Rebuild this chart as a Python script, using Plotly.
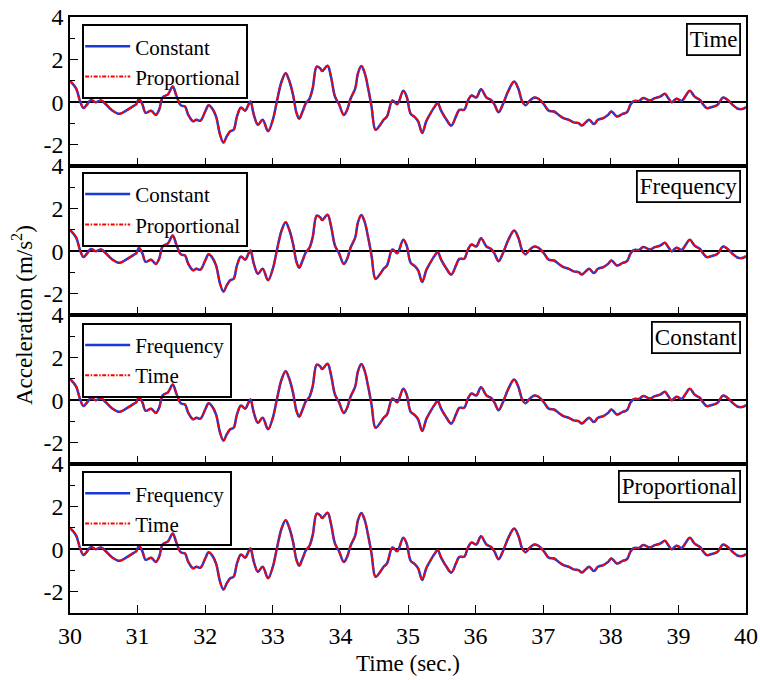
import plotly.graph_objects as go
from plotly.subplots import make_subplots

# Time axis (s) and acceleration (m/s^2)
time_s = [30.00, 30.09, 30.15, 30.20, 30.25, 30.31, 30.38, 30.46, 30.53, 30.63,
          30.73, 30.83, 30.93, 30.98, 31.02, 31.07, 31.12, 31.20, 31.27, 31.32,
          31.37, 31.45, 31.52, 31.57, 31.64, 31.70, 31.75, 31.82, 31.87, 31.93,
          32.00, 32.05, 32.10, 32.16, 32.22, 32.27, 32.32, 32.37, 32.42, 32.47,
          32.53, 32.59, 32.64, 32.67, 32.72, 32.78, 32.85, 32.93, 33.00, 33.06,
          33.13, 33.19, 33.24, 33.30, 33.35, 33.39, 33.44, 33.49, 33.54, 33.59,
          33.65, 33.70, 33.73, 33.81, 33.86, 33.92, 33.98, 34.05, 34.10, 34.15,
          34.22, 34.26, 34.31, 34.36, 34.41, 34.46, 34.52, 34.59, 34.64, 34.69,
          34.77, 34.84, 34.93, 34.98, 35.04, 35.10, 35.15, 35.21, 35.27, 35.32,
          35.38, 35.44, 35.49, 35.57, 35.64, 35.71, 35.76, 35.83, 35.89, 35.94,
          36.01, 36.08, 36.16, 36.23, 36.28, 36.34, 36.41, 36.48, 36.57, 36.63,
          36.69, 36.74, 36.79, 36.87, 36.93, 37.01, 37.08, 37.16, 37.23, 37.30,
          37.38, 37.45, 37.53, 37.57, 37.62, 37.68, 37.75, 37.81, 37.89, 37.96,
          38.01, 38.09, 38.17, 38.24, 38.29, 38.34, 38.42, 38.48, 38.58, 38.65,
          38.73, 38.80, 38.85, 38.90, 38.97, 39.05, 39.10, 39.17, 39.24, 39.32,
          39.37, 39.42, 39.49, 39.58, 39.66, 39.73, 39.81, 39.88, 39.96, 40.00]

accel = [1.00, 0.65, 0.03, -0.28, -0.12, 0.10, 0.00, 0.08, -0.10, -0.40,
         -0.55, -0.40, -0.20, -0.10, 0.15, -0.10, -0.50, -0.40, -0.60, -0.35,
         0.22, 0.37, 0.73, 0.34, -0.15, -0.20, -0.60, -0.90, -0.83, -0.87,
         -0.44, -0.15, -0.28, -0.67, -1.53, -1.90, -1.60, -1.37, -1.30, -0.67,
         -0.25, -0.40, -0.12, 0.03, -0.60, -1.06, -0.83, -1.37, -0.83, 0.03,
         0.97, 1.36, 1.04, 0.34, -0.50, -0.78, -0.44, -0.05, 0.14, 0.65,
         1.67, 1.59, 1.46, 1.71, 1.20, 0.26, -0.10, -0.60, -0.36, 0.16,
         0.65, 1.36, 1.70, 1.36, 0.65, -0.20, -1.30, -1.06, -0.83, -0.67,
         0.08, -0.10, 0.53, 0.26, -0.55, -0.70, -0.90, -1.45, -0.90, -0.60,
         -0.28, -0.05, -0.40, -0.83, -1.10, -0.67, -0.36, -0.36, 0.10, 0.31,
         0.22, 0.60, 0.22, 0.10, -0.12, -0.47, -0.05, 0.50, 0.97, 0.65,
         0.03, -0.15, 0.03, 0.22, 0.16, -0.10, -0.40, -0.44, -0.60, -0.75,
         -0.83, -0.95, -1.00, -1.10, -0.98, -0.83, -1.03, -0.83, -0.75, -0.60,
         -0.44, -0.67, -0.56, -0.47, -0.12, 0.05, 0.06, 0.19, 0.08, 0.19,
         0.26, 0.39, 0.19, 0.00, 0.16, 0.06, 0.26, 0.53, 0.26, 0.10,
         -0.12, -0.28, -0.23, -0.12, 0.22, 0.10, -0.15, -0.31, -0.31, -0.23]

panel_series = [("Constant", "Proportional"), ("Constant", "Proportional"),
                ("Frequency", "Time"), ("Frequency", "Time")]
panel_labels = ["Time", "Frequency", "Constant", "Proportional"]
x_ticks = [30, 31, 32, 33, 34, 35, 36, 37, 38, 39, 40]
y_ticks = [-2, 0, 2, 4]

FONT = "Liberation Serif, Times New Roman, serif"
BLUE = "#1a3ad6"
RED = "#ff0000"

fig = make_subplots(rows=4, cols=1, shared_xaxes=True, vertical_spacing=0)

legend_tops = [0.988, 0.740, 0.487, 0.238]
label_tops = [0.99, 0.743, 0.49, 0.24]

for i, (s1, s2) in enumerate(panel_series):
    row = i + 1
    lg = "legend" if i == 0 else f"legend{i + 1}"
    fig.add_trace(go.Scatter(x=time_s, y=accel, mode="lines", name=s1,
                             line=dict(color=BLUE, width=2.5, shape="spline"),
                             legend=lg), row=row, col=1)
    fig.add_trace(go.Scatter(x=time_s, y=accel, mode="lines", name=s2,
                             line=dict(color=RED, width=2, dash="4px,1.5px,1.5px,1.5px",
                                       shape="spline"),
                             legend=lg), row=row, col=1)
    fig.update_layout(**{lg: dict(x=0.018, y=legend_tops[i], xanchor="left", yanchor="top",
                                  bgcolor="rgba(255,255,255,0)", bordercolor="black",
                                  borderwidth=2,
                                  font=dict(family=FONT, size=21, color="black"),
                                  tracegroupgap=0, itemwidth=45,
                                  indentation=-4)})
    fig.add_annotation(x=0.992, y=label_tops[i], xref="paper", yref="paper",
                       xanchor="right", yanchor="top", text=panel_labels[i],
                       showarrow=False, font=dict(family=FONT, size=23, color="black"),
                       bordercolor="black", borderwidth=1.8, borderpad=2, bgcolor="white")
    fig.update_yaxes(range=[-3, 4], tickvals=y_ticks, ticktext=[str(v) for v in y_ticks],
                     ticks="inside", ticklen=8, tickwidth=1.2, tickcolor="black",
                     minor=dict(ticks="inside", dtick=1, ticklen=5, tickcolor="black"),
                     showgrid=False, zeroline=True, zerolinecolor="black", zerolinewidth=1.5,
                     showline=True, linecolor="black", linewidth=1.5, mirror=True,
                     automargin=False,
                     tickfont=dict(family=FONT, size=24, color="black"), row=row, col=1)
    fig.update_xaxes(range=[30, 40], tickvals=x_ticks, ticks="inside", ticklen=8,
                     tickwidth=1.2, tickcolor="black", showgrid=False, zeroline=False,
                     showline=True, linecolor="black", linewidth=1.5, mirror=True,
                     automargin=False,
                     tickfont=dict(family=FONT, size=24, color="black"), row=row, col=1)

fig.update_xaxes(showticklabels=True, row=4, col=1)

fig.add_annotation(x=-0.071, y=0.5, xref="paper", yref="paper", textangle=-90,
                   xanchor="center", yanchor="middle",
                   text="Acceleration (m/s<sup>2</sup>)", showarrow=False,
                   font=dict(family=FONT, size=23, color="black"))
fig.add_annotation(x=0.5, y=-0.084, xref="paper", yref="paper", yanchor="middle",
                   text="Time (sec.)", showarrow=False,
                   font=dict(family=FONT, size=23, color="black"))

fig.update_layout(width=760, height=680, margin=dict(l=70, r=14, t=17, b=67, autoexpand=False),
                  plot_bgcolor="white", paper_bgcolor="white", showlegend=True)

fig.write_html("out.html")
